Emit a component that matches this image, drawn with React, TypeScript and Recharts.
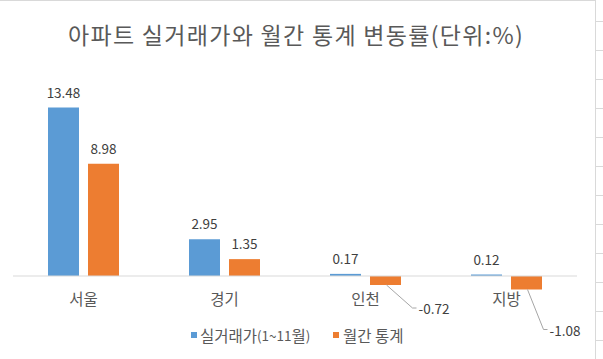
import React from "react";
import { BarChart, Bar, XAxis, YAxis, ReferenceLine, LabelList } from "recharts";

const categories = ["서울", "경기", "인천", "지방"];
const realPrice = [13.48, 2.95, 0.17, 0.12];
const monthlyStat = [8.98, 1.35, -0.72, -1.08];
const seriesNames = ["실거래가(1~11월)", "월간 통계"];
const title = "아파트 실거래가와 월간 통계 변동률(단위:%)";

const data = categories.map((c, i) => ({ name: c, real: realPrice[i], monthly: monthlyStat[i] }));

// callout offsets for negative labels (layout only)
const calloutOffsets: Record<number, { dx: number; dy: number }> = {
  2: { dx: 31, dy: 23 },
  3: { dx: 21, dy: 40 },
};

const FONT = "'Noto Sans CJK KR', 'Noto Sans', sans-serif";
const BLUE = "#5B9BD5";
const ORANGE = "#ED7D31";
const TEXT = "#404040";

const TopLabel = (props: any) => {
  const { x, y, width, value } = props;
  if (value < 0) return null;
  return (
    <text x={x + width / 2} y={y - 16} textAnchor="middle" dominantBaseline="central" fill={TEXT} fontSize={13.5} fontFamily={FONT}>
      {value.toFixed(2)}
    </text>
  );
};

const OrangeLabel = (props: any) => {
  const { x, y, width, height, value, index } = props;
  if (value >= 0) return <TopLabel {...props} />;
  const cx = x + width / 2;
  const bottom = Math.max(y, y + height);
  const off = calloutOffsets[index] || { dx: 30, dy: 25 };
  const ty = bottom + off.dy;
  const tx = cx + off.dx;
  return (
    <g>
      <polyline points={`${cx + 1},${bottom} ${tx - 4},${ty} ${tx},${ty}`} fill="none" stroke="#a6a6a6" strokeWidth={1} />
      <text x={tx + 2} y={ty} textAnchor="start" dominantBaseline="central" fill={TEXT} fontSize={13.5} fontFamily={FONT}>
        {value.toFixed(2)}
      </text>
    </g>
  );
};

const CatTick = (props: any) => {
  const { x, y, payload } = props;
  return (
    <text x={x} y={y} dy={-3} textAnchor="middle" dominantBaseline="central" fill="#595959" fontSize={15.5} fontFamily={FONT}>
      {payload.value}
    </text>
  );
};

const Legend2 = () => (
  <g fontFamily={FONT} fontSize={15.5} fill="#595959">
    <rect x={191} y={332} width={6} height={6} fill={BLUE} />
    <text x={200} y={335} dominantBaseline="central">
      실거래가<tspan fontSize={13.5}>(1~11</tspan>월<tspan fontSize={13.5}>)</tspan>
    </text>
    <rect x={333} y={332} width={6} height={6} fill={ORANGE} />
    <text x={343} y={335} dominantBaseline="central">{seriesNames[1]}</text>
  </g>
);

export default function App() {
  return (
    <div style={{ position: "absolute", left: 0, top: 0, width: 603, height: 359, background: "#fff" }}>
      <svg width={603} height={359} style={{ position: "absolute", left: 0, top: 0 }}>
        <line x1={0} y1={0.5} x2={595} y2={0.5} stroke="#d9d9d9" />
        <line x1={595.5} y1={0} x2={595.5} y2={359} stroke="#d9d9d9" />
        {[21, 50, 79, 108, 137, 166, 195, 224, 253, 282, 311, 340].map((t) => (
          <line key={t} x1={596} y1={t + 0.5} x2={603} y2={t + 0.5} stroke="#d9d9d9" />
        ))}
        <text x={296} y={34} textAnchor="middle" dominantBaseline="central" fill="#595959" fontSize={23} letterSpacing={1.3} fontFamily={FONT}>
          {title}
        </text>
        <Legend2 />
      </svg>
      <div style={{ position: "absolute", left: 0, top: 0 }}>
        <BarChart
          width={603}
          height={359}
          data={data}
          margin={{ top: 76, right: 26, bottom: 28, left: 13 }}
          barSize={31}
          barGap={9}
        >
          <XAxis dataKey="name" axisLine={false} tickLine={false} tick={<CatTick />} tickSize={0} tickMargin={0} interval={0} height={30} />
          <YAxis hide domain={[-2, 16]} />
          <ReferenceLine y={0} stroke="#d9d9d9" strokeWidth={1} />
          <Bar dataKey="real" name={seriesNames[0]} fill={BLUE} isAnimationActive={false}>
            <LabelList dataKey="real" content={<TopLabel />} />
          </Bar>
          <Bar dataKey="monthly" name={seriesNames[1]} fill={ORANGE} isAnimationActive={false}>
            <LabelList dataKey="monthly" content={<OrangeLabel />} />
          </Bar>
        </BarChart>
      </div>
    </div>
  );
}
